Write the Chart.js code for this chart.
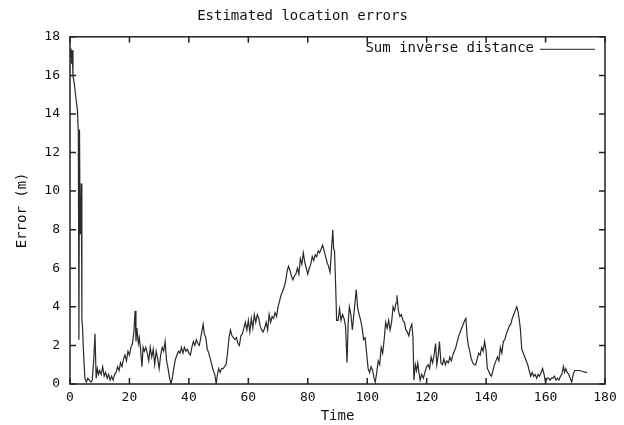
<!DOCTYPE html>
<html>
<head>
<meta charset="utf-8">
<script src="https://cdn.jsdelivr.net/npm/chart.js@4/dist/chart.umd.min.js"></script>
<style>
  html, body { margin: 0; padding: 0; background: #fff; }
  #wrap { width: 624px; height: 425px; }
</style>
</head>
<body>
<div id="wrap"><canvas id="errChart"></canvas></div>
<script>
// --- DATA ---
const chartTitle = 'Estimated location errors';
const seriesName = 'Sum inverse distance';
const xTicks = [0, 20, 40, 60, 80, 100, 120, 140, 160, 180];
const yTicks = [0, 2, 4, 6, 8, 10, 12, 14, 16, 18];

const times = [
  0, 0.3, 0.5, 0.7, 1.0, 1.5, 2.0, 2.5, 2.8, 3.0, 3.2, 3.4, 3.6, 3.8, 4.0, 4.2, 4.5,
  5.0, 5.5, 6.0, 6.5, 7.0, 7.5, 8.0, 8.4, 8.8, 9.2, 9.6,
  10, 10.5, 11, 11.5, 12, 12.5, 13, 13.5, 14, 14.5, 15, 15.5, 16, 16.5, 17, 17.5,
  18, 18.5, 19, 19.5, 20, 20.5, 21, 21.5, 21.9, 22.2, 22.5, 23, 23.3, 23.7, 24.2, 24.6,
  25, 25.5, 26, 26.5, 27, 27.5, 28, 28.5, 29, 29.5, 30, 30.5, 31, 31.5, 32, 32.5,
  33, 33.5, 34, 34.5, 35, 35.5, 36, 36.5, 37, 37.5, 38, 38.5, 39, 39.5, 40, 40.5,
  41, 41.5, 42, 42.5, 43, 43.5, 44, 44.8, 45.2, 45.7, 46.2, 46.7, 47.2, 47.7, 48.2, 48.7,
  49.2, 49.5, 50, 50.5, 51, 51.5, 52, 52.5, 53, 53.5, 54, 54.5, 55, 55.5, 56, 56.5,
  57, 57.5, 58, 58.5, 59, 59.5, 60, 60.5, 61, 61.5, 62, 62.5, 63, 63.5, 64, 64.5,
  65, 65.5, 66, 66.5, 67, 67.5, 68, 68.5, 69, 69.5, 70, 70.5, 71, 71.5, 72, 72.5,
  73, 73.5, 74, 74.5, 75, 75.5, 76, 76.5, 77, 77.5, 78, 78.5, 79, 79.5, 80, 80.5,
  81, 81.5, 82, 82.5, 83, 83.5, 84, 84.5, 85, 85.5, 86, 86.5, 87, 87.5, 88, 88.4,
  88.7, 89, 89.4, 89.7, 90.2, 90.7, 91.2, 91.7, 92.2, 92.7, 93.2, 93.6, 94, 94.5, 95, 95.5,
  96, 96.3, 96.8, 97.3, 97.8, 98.3, 98.8, 99.3, 99.8, 100.3, 100.8, 101.3, 101.8, 102.3, 102.7, 103.2,
  103.7, 104.2, 104.7, 105.2, 105.7, 106.2, 106.7, 107.2, 107.7, 108.2, 108.7, 109.2, 109.7, 110, 110.5, 111,
  111.5, 112, 112.5, 113, 113.5, 114, 114.5, 115, 115.4, 115.7, 116.2, 116.6, 117, 117.4, 117.8, 118.3,
  118.9, 119.4, 120, 120.5, 121, 121.5, 122, 122.5, 123, 123.4, 123.9, 124.3, 124.8, 125.3, 125.8, 126.3,
  126.8, 127.3, 127.8, 128.3, 128.8, 129.3, 129.8, 130.3, 130.8, 131.3, 131.8, 132.3, 132.8, 133.2, 133.6, 134,
  134.5, 135, 135.5, 136, 136.5, 137, 137.5, 138, 138.5, 139, 139.5, 140, 140.4, 140.8, 141.3, 141.8,
  142.3, 142.8, 143.3, 143.8, 144.3, 144.8, 145.3, 145.8, 146.3, 146.8, 147.3, 147.8, 148.3, 148.8, 149.3, 149.8,
  150.3, 150.7, 151.1, 151.5, 152, 152.5, 153, 153.5, 154, 154.5, 155, 155.5, 156, 156.5, 157, 157.5,
  158, 158.5, 159, 159.5, 160, 160.5, 161, 161.5, 162, 162.5, 163, 163.5, 164, 164.5, 165, 165.5,
  166, 166.4, 166.8, 167.3, 167.8, 168.3, 168.8, 169.3, 169.8, 170.3, 170.8, 171.5, 172.5, 173.5, 174
];

const errors = [
  17.0, 17.4, 16.6, 17.3, 16.0, 15.5, 14.8, 14.2, 13.0, 2.3, 13.2, 7.8, 8.2, 10.4, 3.3, 3.0, 1.8,
  0.3, 0.1, 0.3, 0.2, 0.1, 0.2, 1.3, 2.6, 0.3, 0.8, 0.5,
  0.7, 0.5, 0.9, 0.4, 0.6, 0.3, 0.5, 0.2, 0.4, 0.2, 0.5, 0.6, 0.9, 0.7, 1.1, 0.9,
  1.3, 1.5, 1.2, 1.7, 1.5, 1.9, 2.1, 2.7, 3.8, 2.2, 2.9, 2.1, 2.4, 1.9, 0.9, 1.9,
  1.7, 1.9, 1.6, 1.2, 1.9, 1.4, 1.8, 1.0, 1.7, 1.3, 0.8, 1.5, 1.9, 1.7, 2.2, 1.2,
  0.8, 0.3, 0.0, 0.4, 0.9, 1.3, 1.5, 1.7, 1.6, 1.9, 1.6, 1.9, 1.7, 1.8, 1.6, 1.5,
  1.9, 2.2, 2.0, 2.3, 2.1, 2.0, 2.4, 3.1, 2.6, 2.4, 1.8, 1.6, 1.3, 1.0, 0.7, 0.5,
  0.0, 0.4, 0.8, 0.6, 0.8, 0.8, 0.9, 1.0, 1.6, 2.4, 2.8, 2.5, 2.4, 2.3, 2.4, 2.1,
  2.0, 2.5, 2.6, 2.9, 3.2, 2.8, 3.3, 2.7, 3.4, 2.9, 3.6, 3.2, 3.6, 3.4, 3.0, 2.8,
  2.7, 2.9, 3.2, 2.8, 3.6, 3.2, 3.5, 3.4, 3.7, 3.5, 4.0, 4.3, 4.6, 4.8, 5.0, 5.3,
  5.8, 6.1, 5.9, 5.6, 5.4, 5.6, 5.7, 6.0, 5.7, 6.5, 6.2, 6.8, 6.3, 6.0, 5.7, 6.0,
  6.2, 6.6, 6.4, 6.7, 6.6, 6.9, 6.8, 7.0, 7.2, 6.9, 6.6, 6.3, 6.1, 5.8, 7.0, 8.0,
  7.0, 6.9, 5.0, 3.3, 3.3, 3.9, 3.3, 3.6, 3.4, 3.0, 1.1, 3.2, 4.0, 3.6, 2.8, 3.6,
  4.4, 4.9, 3.9, 3.6, 3.3, 2.9, 2.3, 2.4, 1.6, 0.8, 0.6, 0.9, 0.7, 0.3, 0.1, 0.6,
  1.2, 1.0, 1.9, 1.6, 2.3, 3.2, 2.9, 3.3, 2.8, 3.2, 4.0, 3.8, 4.2, 4.6, 3.8, 3.5,
  3.6, 3.3, 3.2, 2.8, 2.7, 2.5, 2.9, 3.1, 2.4, 0.2, 1.0, 0.7, 1.1, 0.6, 0.2, 0.5,
  0.3, 0.6, 0.9, 1.0, 0.8, 1.4, 1.1, 1.5, 2.1, 1.0, 1.5, 2.2, 1.1, 1.0, 1.3, 1.0,
  1.2, 1.1, 1.4, 1.2, 1.5, 1.7, 1.9, 2.2, 2.5, 2.7, 2.9, 3.1, 3.3, 3.4, 2.5, 2.0,
  1.7, 1.3, 1.1, 1.0, 1.0, 1.3, 1.6, 1.5, 1.9, 1.7, 2.2, 1.7, 0.8, 0.7, 0.5, 0.4,
  0.7, 1.0, 1.2, 1.4, 1.2, 1.9, 1.6, 2.2, 2.3, 2.6, 2.8, 3.0, 3.1, 3.4, 3.6, 3.8,
  4.0, 3.8, 3.4, 2.9, 1.8, 1.6, 1.4, 1.2, 1.0, 0.7, 0.4, 0.6, 0.4, 0.5, 0.3, 0.5,
  0.4, 0.6, 0.8, 0.5, 0.1, 0.3, 0.3, 0.2, 0.3, 0.3, 0.4, 0.2, 0.3, 0.2, 0.4, 0.5,
  0.9, 0.6, 0.8, 0.6, 0.5, 0.3, 0.1, 0.5, 0.7, 0.7, 0.7, 0.7, 0.65, 0.6, 0.6
];

// --- STYLE ---
const FONT = '"DejaVu Sans Mono", "Liberation Mono", monospace';
const INK = '#111';

// gnuplot look: frame box, inward ticks on all four sides, legend top-right
const gnuplotFrame = {
    id: 'gnuplotFrame',
    afterDraw(chart) {
        const { ctx, chartArea: a, scales } = chart;
        ctx.save();
        ctx.strokeStyle = '#222';
        ctx.lineWidth = 1.5;
        ctx.strokeRect(a.left, a.top, a.right - a.left, a.bottom - a.top);

        const t = 6;
        ctx.beginPath();
        xTicks.forEach(v => {
            const x = scales.x.getPixelForValue(v);
            ctx.moveTo(x, a.bottom); ctx.lineTo(x, a.bottom - t);
            ctx.moveTo(x, a.top); ctx.lineTo(x, a.top + t);
        });
        yTicks.forEach(v => {
            const y = scales.y.getPixelForValue(v);
            ctx.moveTo(a.left, y); ctx.lineTo(a.left + t, y);
            ctx.moveTo(a.right, y); ctx.lineTo(a.right - t, y);
        });
        ctx.stroke();

        // legend
        ctx.font = '14px ' + FONT;
        ctx.fillStyle = INK;
        ctx.textAlign = 'right';
        ctx.textBaseline = 'middle';
        const ly = a.top + 12;
        ctx.fillText(seriesName, a.right - 71, ly);
        ctx.lineWidth = 1;
        ctx.beginPath();
        ctx.moveTo(a.right - 65, ly + 0.5);
        ctx.lineTo(a.right - 10, ly + 0.5);
        ctx.stroke();
        ctx.restore();
    }
};

const ctx = document.getElementById('errChart');
new Chart(ctx, {
    type: 'scatter',
    data: {
        datasets: [{
            label: seriesName,
            data: times.map((t, i) => ({ x: t, y: errors[i] })),
            showLine: true,
            borderColor: '#2a2a2a',
            borderWidth: 1.2,
            pointRadius: 0,
            tension: 0
        }]
    },
    options: {
        responsive: true,
        maintainAspectRatio: false,
        animation: false,
        layout: { padding: { left: 0, right: 19, top: 0, bottom: 0 } },
        plugins: {
            legend: { display: false },
            tooltip: { enabled: false },
            title: {
                display: true,
                text: chartTitle,
                color: INK,
                font: { family: FONT, size: 14, weight: 'normal' },
                padding: { top: 8, bottom: 12 }
            }
        },
        scales: {
            x: {
                type: 'linear',
                min: 0, max: 180,
                afterBuildTicks: s => { s.ticks = xTicks.map(v => ({ value: v })); },
                afterFit: s => { s.height = 41; },
                grid: { display: false, drawTicks: false },
                border: { display: false },
                ticks: { color: INK, font: { family: FONT, size: 13 }, padding: 6, maxRotation: 0 },
                title: { display: true, text: 'Time', color: INK, font: { family: FONT, size: 14 }, padding: { top: 0, bottom: 0 } }
            },
            y: {
                type: 'linear',
                min: 0, max: 18,
                afterBuildTicks: s => { s.ticks = yTicks.map(v => ({ value: v })); },
                afterFit: s => { s.width = 70; },
                grid: { display: false, drawTicks: false },
                border: { display: false },
                ticks: { color: INK, font: { family: FONT, size: 13 }, padding: 10 },
                title: { display: true, text: 'Error (m)', color: INK, font: { family: FONT, size: 14 }, padding: { top: 14, bottom: 0 } }
            }
        }
    },
    plugins: [gnuplotFrame]
});
</script>
</body>
</html>
